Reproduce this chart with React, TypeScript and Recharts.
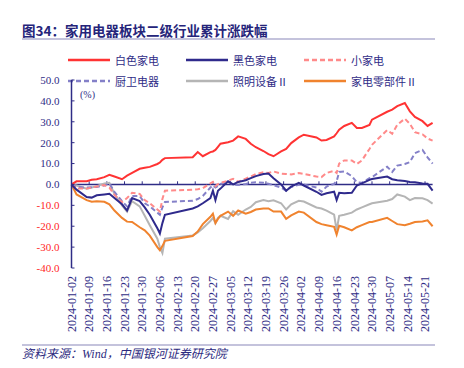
import React from "react";
import { LineChart, Line, XAxis, YAxis, ReferenceLine } from "recharts";

const dates = [
  "01-02", "01-04", "01-08", "01-10", "01-12", "01-15", "01-17", "01-19", "01-22", "01-24", "01-26", "01-29", "01-31",
  "02-02", "02-05", "02-06", "02-07", "02-08", "02-19", "02-21", "02-23", "02-26", "02-27", "02-28", "02-29",
  "03-01", "03-04", "03-06", "03-08", "03-11", "03-13", "03-15", "03-18", "03-20", "03-22", "03-25", "03-27", "03-29",
  "04-01", "04-03", "04-08", "04-10", "04-12", "04-15", "04-16", "04-17", "04-19", "04-22", "04-24", "04-26", "04-29", "04-30",
  "05-06", "05-08", "05-10", "05-13", "05-15", "05-17", "05-20", "05-22", "05-24",
];

// 白色家电
const whiteGoods = [
  0, 1.5, 1.5, 2.2, 2.5, 3.5, 4.6, 3.8, 2.5, 4.2, 5.5, 7.5, 8.0,
  8.4, 9.8, 10.5, 11.8, 12.6, 13.0, 15.5, 13.5, 15.5, 15.8, 16.5, 18.0,
  19.5, 20.2, 21.0, 23.0, 21.8, 19.5, 17.8, 16.0, 14.5, 13.5, 15.8, 17.0, 19.8,
  22.5, 23.8, 22.5, 21.0, 21.3, 23.0, 24.5, 26.2, 28.0, 29.5, 27.0, 27.0, 28.5, 31.0,
  34.8, 35.8, 37.5, 39.0, 35.0, 32.3, 30.3, 28.0, 29.5,
];
// 黑色家电
const blackGoods = [
  0, -2.5, -6.0, -6.3, -5.2, -4.8, -4.5, -6.5, -9.5, -12.5, -6.5, -8.0, -11.0,
  -14.5, -21.0, -23.5, -18.5, -14.5, -11.5, -10.5, -9.0, -6.5, -3.0, -7.5, -3.0,
  -2.0, 1.5, 0.0, 1.2, 2.0, 3.0, 4.0, 5.0, 5.2, 3.0, 0.0, -3.0, -1.0,
  0.8, -0.5, -3.5, -5.0, -4.2, -3.5, -7.5, -4.0, -4.2, -4.0, -0.5, 0.5, 2.2, 2.6,
  3.8, 2.5, 2.0, 1.6, 1.2, 1.0, 0.5, 0.3, -3.0,
];
// 小家电
const smallAppliances = [
  0, -2.0, -2.0, -1.5, -1.0, -0.3, -1.5, -5.0, -8.5, -6.5, -4.0, -4.5, -7.5,
  -9.0, -12.0, -13.0, -7.0, -3.0, -2.5, -2.3, -1.8, 0.5, 1.2, -0.8, 0.2,
  0.8, 1.8, 2.7, 1.2, 2.8, 3.8, 5.0, 5.8, 5.5, 6.2, 5.2, 5.0, 4.8,
  5.5, 5.0, 3.8, 3.5, 5.5, 6.5, 5.5, 10.0, 11.5, 11.5, 9.8, 11.5, 17.0, 19.0,
  26.0, 24.3, 28.5, 31.5, 29.0, 25.0, 24.0, 22.0, 21.0,
];
// 厨卫电器
const kitchenBath = [
  0, -1.2, -1.5, -1.3, -1.2, -0.5, 0.5, -3.5, -8.0, -10.5, -5.5, -5.5, -9.0,
  -10.5, -13.5, -14.5, -11.0, -8.4, -7.8, -7.0, -5.5, -1.5, -0.4, -1.5, -0.8,
  0.2, 1.2, 0.0, -0.3, 0.2, 0.8, 1.1, 0.8, 0.3, -0.3, -1.5, -3.0, -1.2,
  -0.2, 0.0, -1.5, -3.5, -1.0, 0.3, 1.5, 6.0, 6.2, 4.0, 1.0, 0.8, 3.0, 3.5,
  8.5, 6.0, 9.0, 9.8, 10.7, 15.0, 16.5, 13.0, 10.0,
];
// 照明设备Ⅱ
const lighting = [
  0, -0.5, -2.0, -1.5, -0.8, 0.5, 0.8, -4.5, -10.0, -13.0, -8.0, -10.5, -15.0,
  -19.5, -26.0, -30.0, -32.8, -26.0, -24.4, -23.0, -21.0, -17.5, -16.0, -18.5, -16.0,
  -15.0, -16.5, -12.8, -14.5, -12.0, -10.8, -8.5, -7.5, -8.0, -7.6, -9.0, -12.0, -9.5,
  -7.8, -8.2, -11.0, -11.5, -12.5, -14.5, -22.0, -15.0, -14.5, -13.5, -12.0, -11.0, -9.5, -9.0,
  -7.8, -7.0, -4.8, -5.8, -7.5, -6.5, -6.6, -7.5, -9.2,
];
// 家电零部件Ⅱ
const parts = [
  0, -4.8, -7.5, -8.3, -8.0, -8.3, -9.5, -12.5, -16.0, -17.8, -18.0, -20.5, -22.0,
  -24.5, -30.0, -31.5, -29.5, -27.0, -24.7, -22.5, -19.0, -15.5, -14.0, -18.5, -16.5,
  -15.0, -13.0, -15.0, -12.5, -14.0, -13.2, -12.0, -11.5, -11.5, -13.0, -13.0, -16.5, -14.8,
  -13.0, -13.5, -18.0, -19.0, -19.5, -20.3, -24.0, -19.8, -20.5, -22.0, -20.5, -19.5, -18.0, -18.0,
  -16.0, -17.5, -19.0, -19.5, -18.8, -18.0, -17.7, -17.2, -20.0,
];

const tickDates = [
  "2024-01-02", "2024-01-09", "2024-01-16", "2024-01-23", "2024-01-30", "2024-02-06", "2024-02-13",
  "2024-02-20", "2024-02-27", "2024-03-05", "2024-03-12", "2024-03-19", "2024-03-26", "2024-04-02",
  "2024-04-09", "2024-04-16", "2024-04-23", "2024-04-30", "2024-05-07", "2024-05-14", "2024-05-21",
];
const yTicks = [-40, -30, -20, -10, 0, 10, 20, 30, 40, 50];

const NAVY = "#2f2c86";
const RED = "#ff1f1f";

const series = [
  { key: "lighting", name: "照明设备Ⅱ", color: "#b5b5b5", dash: undefined },
  { key: "parts", name: "家电零部件Ⅱ", color: "#f0832e", dash: undefined },
  { key: "kitchen", name: "厨卫电器", color: "#8480c8", dash: "5 3" },
  { key: "small", name: "小家电", color: "#ff8a8a", dash: "5 3" },
  { key: "black", name: "黑色家电", color: "#2f2a8c", dash: undefined },
  { key: "white", name: "白色家电", color: "#ff3333", dash: undefined },
];

const legendOrder = ["white", "black", "small", "kitchen", "lighting", "parts"];

const base = Date.UTC(2024, 0, 2);
const dayOf = (s: string) => {
  const [y, m, d] = s.split("-").map(Number);
  return Math.round((Date.UTC(y, m - 1, d) - base) / 86400000);
};

const data = dates.map((md, i) => ({
  d: dayOf("2024-" + md),
  white: whiteGoods[i],
  black: blackGoods[i],
  small: smallAppliances[i],
  kitchen: kitchenBath[i],
  lighting: lighting[i],
  parts: parts[i],
}));

const xTicks = tickDates.map(dayOf);
const labelByDay: Record<number, string> = {};
tickDates.forEach((t) => (labelByDay[dayOf(t)] = t));

const YTick = (props: any) => {
  const { x, y, payload } = props;
  const v = payload.value as number;
  return (
    <text x={x} y={y} dy="0.35em" textAnchor="end" fontSize={11}
      fontFamily="'Liberation Serif', serif" fill={v < 0 ? RED : NAVY}>
      {v.toFixed(1)}
    </text>
  );
};

const XTick = (props: any) => {
  const { x, y, payload } = props;
  return (
    <text x={x} y={y} dy="0.35em" textAnchor="end" fontSize={12}
      fontFamily="'Liberation Serif', serif" fill={NAVY}
      transform={`rotate(-90, ${x}, ${y})`}>
      {labelByDay[payload.value] ?? ""}
    </text>
  );
};

const LegendItem = ({ name, color, dash }: { name: string; color: string; dash?: string }) => (
  <div style={{ display: "flex", alignItems: "center", height: 14 }}>
    <svg width={42} height={6} style={{ display: "block" }}>
      <line x1={0} y1={3} x2={42} y2={3} stroke={color} strokeWidth={2.5} strokeDasharray={dash} />
    </svg>
    <span style={{ marginLeft: 5, fontSize: 11, color: NAVY, whiteSpace: "nowrap" }}>{name}</span>
  </div>
);

export default function App() {
  const legendCols = [68, 186, 304];
  const legendRows = [53, 74];
  return (
    <div style={{ position: "absolute", left: 0, top: 0, width: 464, height: 368, background: "#fff",
      fontFamily: "'Noto Sans CJK SC', sans-serif", overflow: "hidden" }}>
      <div style={{ position: "absolute", left: 22, top: 20, fontSize: 13.5, fontWeight: 700, color: "#25247a",
        whiteSpace: "nowrap", lineHeight: "20px" }}>
        图34：家用电器板块二级行业累计涨跌幅
      </div>
      <div style={{ position: "absolute", left: 22, top: 38, width: 413, height: 1.5, background: "#c4c3dc" }} />

      {legendOrder.map((k, i) => {
        const s = series.find((t) => t.key === k)!;
        return (
          <div key={k} style={{ position: "absolute", left: legendCols[i % 3], top: legendRows[Math.floor(i / 3)] }}>
            <LegendItem name={s.name} color={s.color} dash={s.dash} />
          </div>
        );
      })}

      <div style={{ position: "absolute", left: 0, top: 0 }}>
        <LineChart width={464} height={368} data={data}
          margin={{ top: 80, right: 31.4, bottom: 30, left: 11.5 }}>
          <XAxis dataKey="d" type="number" domain={[0, 143]} ticks={xTicks} interval={0}
            axisLine={false} tickLine={false} tick={<XTick />} height={70} />
          <YAxis type="number" domain={[-40, 50]} ticks={yTicks} interval={0} width={60}
            axisLine={{ stroke: NAVY, strokeWidth: 1.5 }} tickLine={{ stroke: NAVY, strokeWidth: 1 }}
            tickSize={-3} tickMargin={15} tick={<YTick />} />
          <ReferenceLine y={0} stroke={NAVY} strokeWidth={1.5} />
          {xTicks.map((t) => (
            <ReferenceLine key={t} segment={[{ x: t, y: 0 }, { x: t, y: 1.5 }]} stroke={NAVY} strokeWidth={1} />
          ))}
          {series.map((s) => (
            <Line key={s.key} type="linear" dataKey={s.key} name={s.name} stroke={s.color}
              strokeWidth={2} strokeDasharray={s.dash} dot={false} activeDot={false}
              isAnimationActive={false} />
          ))}
        </LineChart>
      </div>

      <div style={{ position: "absolute", left: 80, top: 89, fontSize: 10, color: NAVY,
        fontFamily: "'Liberation Serif', serif" }}>(%)</div>

      <div style={{ position: "absolute", left: 22, top: 344, width: 413, height: 1.5, background: "#c4c3dc" }} />
      <div style={{ position: "absolute", left: 22, top: 345, fontSize: 12, fontStyle: "italic", color: "#2c2a80",
        whiteSpace: "nowrap", lineHeight: "18px", fontFamily: "'Liberation Serif', 'Noto Sans CJK SC', serif" }}>
        资料来源：Wind，中国银河证券研究院
      </div>
    </div>
  );
}
